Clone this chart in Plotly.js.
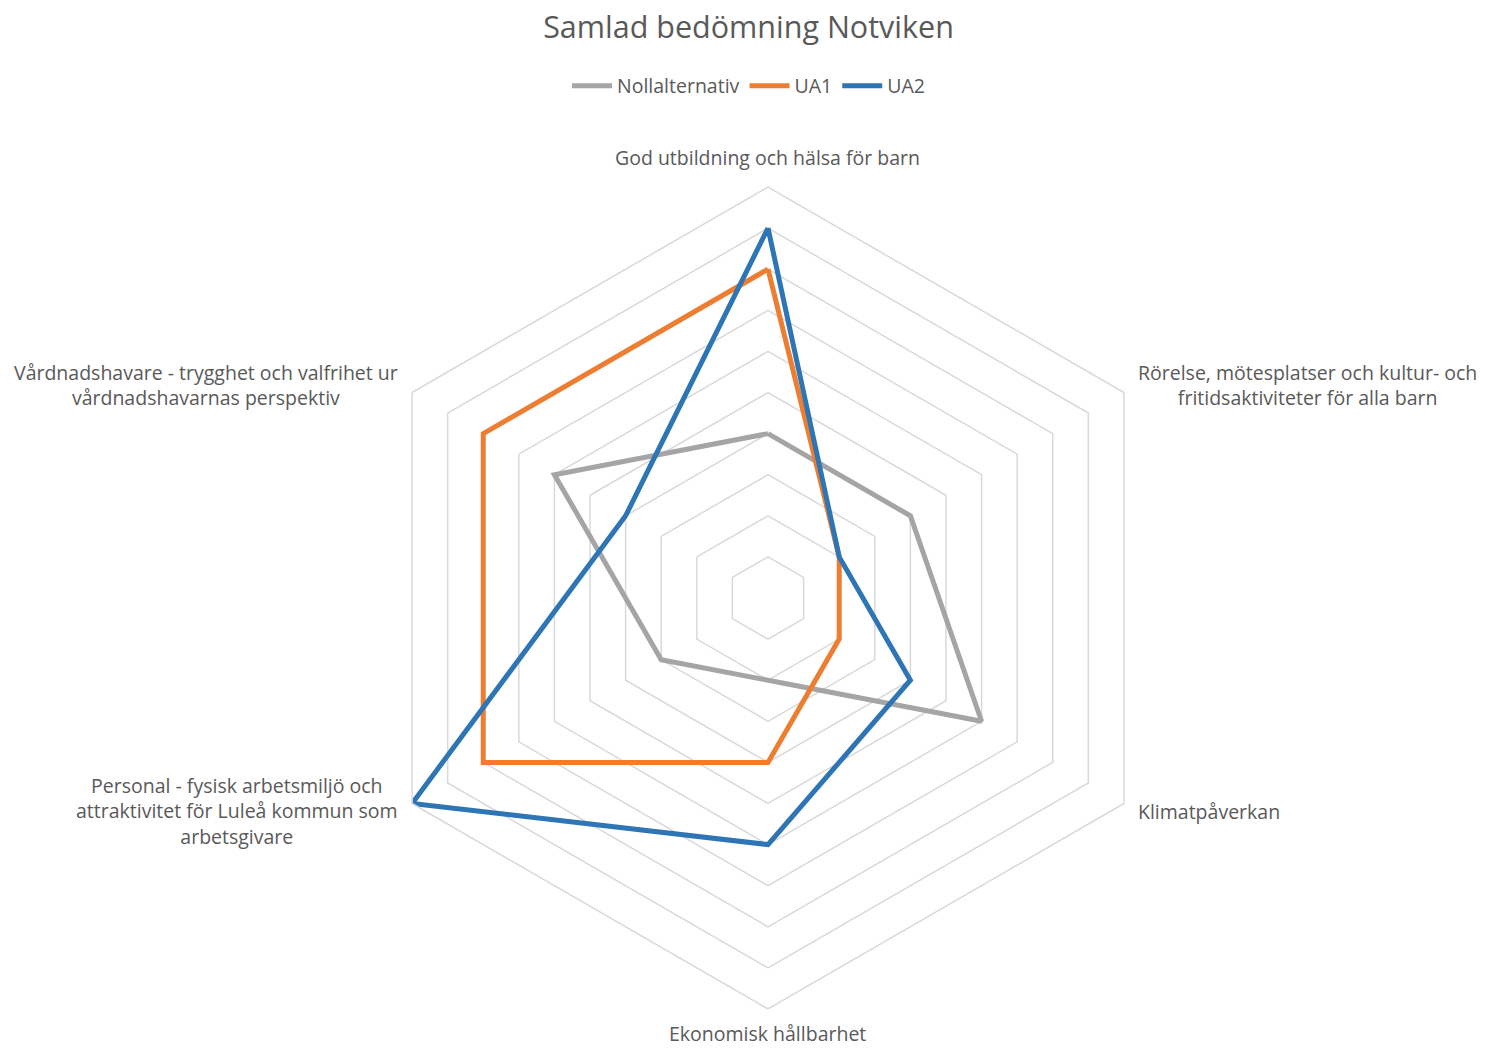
<!DOCTYPE html>
<html>
<head>
<meta charset="utf-8">
<script src="https://cdn.plot.ly/plotly-3.0.1.min.js"></script>
<style>
  body { margin: 0; background: #fff; }
  #myPlot { width: 1497px; height: 1050px; }
</style>
</head>
<body>
<div id="myPlot"></div>
<script>
// Data
var categories = [
  "God utbildning och hälsa för barn",
  "Rörelse, mötesplatser och kultur- och fritidsaktiviteter för alla barn",
  "Klimatpåverkan",
  "Ekonomisk hållbarhet",
  "Personal - fysisk arbetsmiljö och attraktivitet för Luleå kommun som arbetsgivare",
  "Vårdnadshavare - trygghet och valfrihet ur vårdnadshavarnas perspektiv"
];
// label text as wrapped in the chart
var categoryLabels = [
  "God utbildning och hälsa för barn",
  "Rörelse, mötesplatser och kultur- och<br>fritidsaktiviteter för alla barn",
  "Klimatpåverkan",
  "Ekonomisk hållbarhet",
  "Personal - fysisk arbetsmiljö och<br>attraktivitet för Luleå kommun som<br>arbetsgivare",
  "Vårdnadshavare - trygghet och valfrihet ur<br>vårdnadshavarnas perspektiv"
];
var seriesNames = ["Nollalternativ", "UA1", "UA2"];
var nollValues = [4, 4, 6, 2, 3, 6];
var ua1Values = [8, 2, 2, 4, 8, 8];
var ua2Values = [9, 2, 4, 6, 10, 4];

var colors = ["#A5A5A5", "#ED7D31", "#2E75B6"];

var W = 1497, H = 1050;
var cx = 768, cy = 598, R = 411;   // polar centre and radius in px

function closeLoop(arr){ return arr.concat([arr[0]]); }

var allValues = [nollValues, ua1Values, ua2Values];
var data = [];
for (var s = 0; s < allValues.length; s++){
  data.push({
    type: "scatterpolar",
    r: closeLoop(allValues[s]),
    theta: closeLoop(categories),
    mode: "lines",
    name: seriesNames[s],
    line: {color: colors[s], width: 5},
    hoverinfo: "skip"
  });
}

// axis labels as annotations so multi-line text stays centred
var annotations = [];
for (var i = 0; i < categories.length; i++){
  var ang = (90 - 60 * i) * Math.PI / 180;
  var labelR = 426;
  var xa = "center", ya = "middle";
  if (Math.abs(Math.cos(ang)) < 0.01){
    ya = Math.sin(ang) > 0 ? "bottom" : "top";
    if (Math.sin(ang) < 0) labelR = 421;   // keep bottom label inside the page
  } else {
    xa = Math.cos(ang) > 0 ? "left" : "right";
  }
  var px = cx + labelR * Math.cos(ang);
  var py = cy - labelR * Math.sin(ang);
  annotations.push({
    text: categoryLabels[i],
    x: px / W, y: 1 - py / H,
    xref: "paper", yref: "paper",
    xanchor: xa, yanchor: ya,
    align: "center",
    showarrow: false,
    borderpad: 0,
    font: {family: "Open Sans, sans-serif", size: 19.5, color: "#595959"}
  });
}

var layout = {
  width: W, height: H,
  margin: {l: 0, r: 0, t: 0, b: 0},
  paper_bgcolor: "#fff",
  title: {
    text: "Samlad bedömning Notviken",
    x: 0.5, xanchor: "center",
    y: 1 - 27 / H, yanchor: "middle",
    font: {family: "Open Sans, sans-serif", size: 30.5, color: "#595959"}
  },
  showlegend: true,
  legend: {
    orientation: "h",
    x: 0.5, xanchor: "center",
    y: 1 - 86 / H, yanchor: "middle",
    font: {family: "Open Sans, sans-serif", size: 19.5, color: "#595959"},
    itemwidth: 40
  },
  polar: {
    domain: {x: [(cx - R) / W, (cx + R) / W], y: [1 - (cy + R) / H, 1 - (cy - R) / H]},
    bgcolor: "#fff",
    gridshape: "linear",
    radialaxis: {
      range: [0, 10], dtick: 1,
      showticklabels: false, ticks: "",
      showline: false,
      gridcolor: "#D9D9D9", gridwidth: 1.5
    },
    angularaxis: {
      rotation: 90, direction: "clockwise",
      showgrid: false, showticklabels: false, ticks: "",
      showline: true, linecolor: "#D9D9D9", linewidth: 1.5
    }
  },
  annotations: annotations
};

Plotly.newPlot("myPlot", data, layout, {staticPlot: true});
</script>
</body>
</html>
